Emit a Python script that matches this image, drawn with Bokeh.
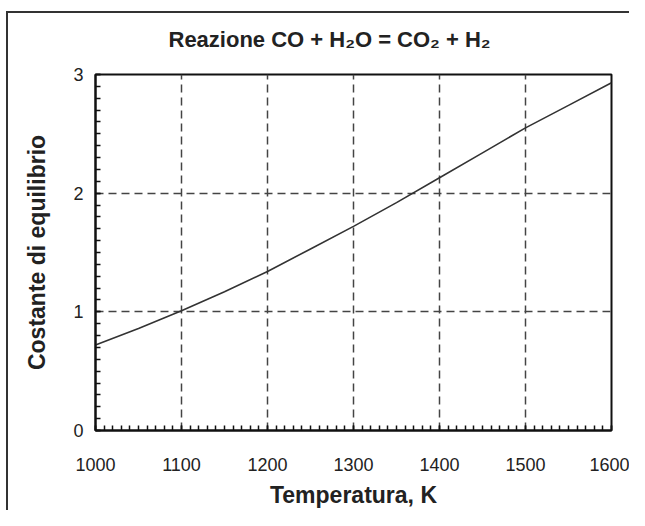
from bokeh.plotting import figure
from bokeh.models import SingleIntervalTicker, Range1d
from bokeh.embed import file_html
from bokeh.resources import INLINE

temperature = [1000, 1050, 1100, 1150, 1200, 1250, 1300, 1350, 1400, 1450, 1500, 1550, 1600]
k_eq = [0.72, 0.86, 1.01, 1.17, 1.34, 1.53, 1.72, 1.92, 2.13, 2.34, 2.55, 2.74, 2.93]

title_text = "Reazione CO + H\u2082O = CO\u2082 + H\u2082"
x_label = "Temperatura, K"
y_label = "Costante di equilibrio"

p = figure(width=629, height=510, output_backend="svg", toolbar_location=None,
           x_range=Range1d(1000, 1600), y_range=Range1d(0, 3),
           min_border_left=95, min_border_right=18, min_border_top=74, min_border_bottom=78)

p.border_fill_color = None
p.background_fill_color = "white"

p.title.text = title_text
p.title.text_font = "Liberation Sans"
p.title.text_font_size = "22px"
p.title.text_font_style = "bold"
p.title.text_color = "#222222"
p.title.align = "left"
p.title.offset = 73
p.title.standoff = 46

p.line(temperature, k_eq, line_color="#333333", line_width=1.6)

p.outline_line_color = "#111111"
p.outline_line_width = 2

p.xaxis.ticker = SingleIntervalTicker(interval=100, num_minor_ticks=10)
p.yaxis.ticker = SingleIntervalTicker(interval=1, num_minor_ticks=10)

for ax in (p.xaxis, p.yaxis):
    ax.axis_line_color = "#111111"
    ax.axis_line_width = 2
    ax.major_tick_in = 5
    ax.major_tick_out = 0
    ax.minor_tick_in = 5
    ax.minor_tick_out = 0
    ax.major_tick_line_color = "#111111"
    ax.minor_tick_line_color = "#111111"
    ax.major_tick_line_width = 1.5
    ax.minor_tick_line_width = 1.5
    ax.major_label_text_font = "Liberation Sans"
    ax.major_label_text_font_size = "18px"
    ax.major_label_text_color = "#222222"
    ax.axis_label_text_font = "Liberation Sans"
    ax.axis_label_text_font_size = "23px"
    ax.axis_label_text_font_style = "bold"
    ax.axis_label_text_color = "#222222"

p.xaxis.axis_label = x_label
p.yaxis.axis_label = y_label
p.xaxis.major_label_standoff = 27
p.xaxis.axis_label_standoff = 8
p.yaxis.major_label_standoff = 12
p.yaxis.axis_label_standoff = 20

p.xgrid.ticker = SingleIntervalTicker(interval=100)
p.ygrid.ticker = SingleIntervalTicker(interval=1)
for g in (p.xgrid, p.ygrid):
    g.grid_line_color = "#444444"
    g.grid_line_width = 1.5
    g.grid_line_dash = "8 5"

p.styles = {"overflow": "hidden",
            "box-shadow": "inset 6px 0 0 0 #ffffff, inset 0 11px 0 0 #ffffff, "
                          "inset 8px 0 0 0 #333333, inset 0 13px 0 0 #333333"}

open("out.html", "w").write(file_html(p, INLINE))
